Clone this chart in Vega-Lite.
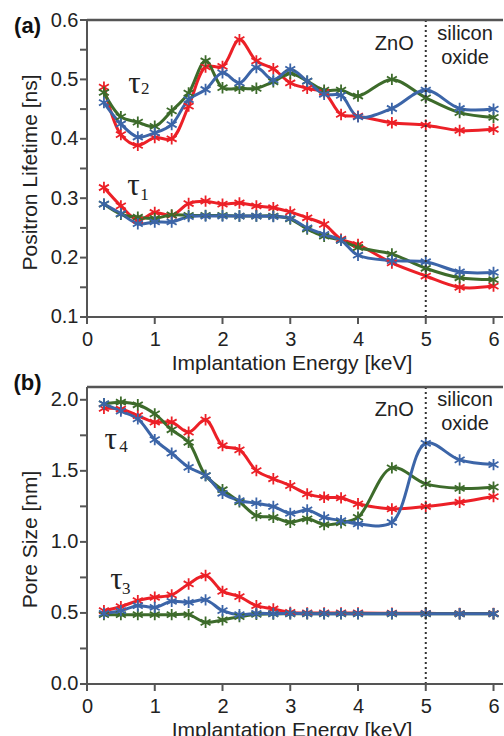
{
  "$schema": "https://vega.github.io/schema/vega-lite/v6.json",
  "padding": {"left": 13, "top": 10, "right": 0, "bottom": 0},
  "spacing": 63,
  "bounds": "flush",
  "config": {
    "view": {"stroke": null},
    "axis": {"domain": false, "ticks": false, "tickSize": 0, "labelFont": "Liberation Sans", "labelFontSize": 20, "labelColor": "#222", "titleFont": "Liberation Sans", "titleFontSize": 21, "titleFontWeight": "normal", "titleColor": "#222", "grid": false}
  },
  "datasets": {
    "top": [
      {"E":0.25,"v":0.487,"s":"r","t":"t2"},{"E":0.5,"v":0.407,"s":"r","t":"t2"},{"E":0.75,"v":0.389,"s":"r","t":"t2"},{"E":1,"v":0.402,"s":"r","t":"t2"},{"E":1.25,"v":0.4,"s":"r","t":"t2"},{"E":1.5,"v":0.455,"s":"r","t":"t2"},{"E":1.75,"v":0.521,"s":"r","t":"t2"},{"E":2,"v":0.522,"s":"r","t":"t2"},{"E":2.25,"v":0.567,"s":"r","t":"t2"},{"E":2.5,"v":0.531,"s":"r","t":"t2"},{"E":2.75,"v":0.518,"s":"r","t":"t2"},{"E":3,"v":0.494,"s":"r","t":"t2"},{"E":3.25,"v":0.485,"s":"r","t":"t2"},{"E":3.5,"v":0.478,"s":"r","t":"t2"},{"E":3.75,"v":0.441,"s":"r","t":"t2"},{"E":4,"v":0.438,"s":"r","t":"t2"},{"E":4.5,"v":0.427,"s":"r","t":"t2"},{"E":5,"v":0.423,"s":"r","t":"t2"},{"E":5.5,"v":0.414,"s":"r","t":"t2"},{"E":6,"v":0.416,"s":"r","t":"t2"},
      {"E":0.25,"v":0.478,"s":"g","t":"t2"},{"E":0.5,"v":0.437,"s":"g","t":"t2"},{"E":0.75,"v":0.428,"s":"g","t":"t2"},{"E":1,"v":0.421,"s":"g","t":"t2"},{"E":1.25,"v":0.447,"s":"g","t":"t2"},{"E":1.5,"v":0.477,"s":"g","t":"t2"},{"E":1.75,"v":0.531,"s":"g","t":"t2"},{"E":2,"v":0.486,"s":"g","t":"t2"},{"E":2.25,"v":0.485,"s":"g","t":"t2"},{"E":2.5,"v":0.485,"s":"g","t":"t2"},{"E":2.75,"v":0.496,"s":"g","t":"t2"},{"E":3,"v":0.51,"s":"g","t":"t2"},{"E":3.25,"v":0.497,"s":"g","t":"t2"},{"E":3.5,"v":0.482,"s":"g","t":"t2"},{"E":3.75,"v":0.482,"s":"g","t":"t2"},{"E":4,"v":0.472,"s":"g","t":"t2"},{"E":4.5,"v":0.5,"s":"g","t":"t2"},{"E":5,"v":0.469,"s":"g","t":"t2"},{"E":5.5,"v":0.444,"s":"g","t":"t2"},{"E":6,"v":0.436,"s":"g","t":"t2"},
      {"E":0.25,"v":0.461,"s":"b","t":"t2"},{"E":0.5,"v":0.425,"s":"b","t":"t2"},{"E":0.75,"v":0.403,"s":"b","t":"t2"},{"E":1,"v":0.41,"s":"b","t":"t2"},{"E":1.25,"v":0.424,"s":"b","t":"t2"},{"E":1.5,"v":0.466,"s":"b","t":"t2"},{"E":1.75,"v":0.483,"s":"b","t":"t2"},{"E":2,"v":0.511,"s":"b","t":"t2"},{"E":2.25,"v":0.494,"s":"b","t":"t2"},{"E":2.5,"v":0.52,"s":"b","t":"t2"},{"E":2.75,"v":0.499,"s":"b","t":"t2"},{"E":3,"v":0.517,"s":"b","t":"t2"},{"E":3.25,"v":0.497,"s":"b","t":"t2"},{"E":3.5,"v":0.475,"s":"b","t":"t2"},{"E":3.75,"v":0.473,"s":"b","t":"t2"},{"E":4,"v":0.437,"s":"b","t":"t2"},{"E":4.5,"v":0.451,"s":"b","t":"t2"},{"E":5,"v":0.482,"s":"b","t":"t2"},{"E":5.5,"v":0.451,"s":"b","t":"t2"},{"E":6,"v":0.45,"s":"b","t":"t2"},
      {"E":0.25,"v":0.318,"s":"r","t":"t1"},{"E":0.5,"v":0.287,"s":"r","t":"t1"},{"E":0.75,"v":0.263,"s":"r","t":"t1"},{"E":1,"v":0.276,"s":"r","t":"t1"},{"E":1.25,"v":0.271,"s":"r","t":"t1"},{"E":1.5,"v":0.291,"s":"r","t":"t1"},{"E":1.75,"v":0.295,"s":"r","t":"t1"},{"E":2,"v":0.29,"s":"r","t":"t1"},{"E":2.25,"v":0.292,"s":"r","t":"t1"},{"E":2.5,"v":0.287,"s":"r","t":"t1"},{"E":2.75,"v":0.284,"s":"r","t":"t1"},{"E":3,"v":0.277,"s":"r","t":"t1"},{"E":3.25,"v":0.267,"s":"r","t":"t1"},{"E":3.5,"v":0.256,"s":"r","t":"t1"},{"E":3.75,"v":0.231,"s":"r","t":"t1"},{"E":4,"v":0.222,"s":"r","t":"t1"},{"E":4.5,"v":0.191,"s":"r","t":"t1"},{"E":5,"v":0.169,"s":"r","t":"t1"},{"E":5.5,"v":0.15,"s":"r","t":"t1"},{"E":6,"v":0.152,"s":"r","t":"t1"},
      {"E":0.25,"v":0.29,"s":"g","t":"t1"},{"E":0.5,"v":0.273,"s":"g","t":"t1"},{"E":0.75,"v":0.268,"s":"g","t":"t1"},{"E":1,"v":0.266,"s":"g","t":"t1"},{"E":1.25,"v":0.272,"s":"g","t":"t1"},{"E":1.5,"v":0.271,"s":"g","t":"t1"},{"E":1.75,"v":0.271,"s":"g","t":"t1"},{"E":2,"v":0.271,"s":"g","t":"t1"},{"E":2.25,"v":0.27,"s":"g","t":"t1"},{"E":2.5,"v":0.27,"s":"g","t":"t1"},{"E":2.75,"v":0.27,"s":"g","t":"t1"},{"E":3,"v":0.265,"s":"g","t":"t1"},{"E":3.25,"v":0.248,"s":"g","t":"t1"},{"E":3.5,"v":0.236,"s":"g","t":"t1"},{"E":3.75,"v":0.229,"s":"g","t":"t1"},{"E":4,"v":0.217,"s":"g","t":"t1"},{"E":4.5,"v":0.206,"s":"g","t":"t1"},{"E":5,"v":0.182,"s":"g","t":"t1"},{"E":5.5,"v":0.166,"s":"g","t":"t1"},{"E":6,"v":0.163,"s":"g","t":"t1"},
      {"E":0.25,"v":0.29,"s":"b","t":"t1"},{"E":0.5,"v":0.274,"s":"b","t":"t1"},{"E":0.75,"v":0.257,"s":"b","t":"t1"},{"E":1,"v":0.26,"s":"b","t":"t1"},{"E":1.25,"v":0.26,"s":"b","t":"t1"},{"E":1.5,"v":0.269,"s":"b","t":"t1"},{"E":1.75,"v":0.27,"s":"b","t":"t1"},{"E":2,"v":0.27,"s":"b","t":"t1"},{"E":2.25,"v":0.27,"s":"b","t":"t1"},{"E":2.5,"v":0.27,"s":"b","t":"t1"},{"E":2.75,"v":0.269,"s":"b","t":"t1"},{"E":3,"v":0.266,"s":"b","t":"t1"},{"E":3.25,"v":0.25,"s":"b","t":"t1"},{"E":3.5,"v":0.239,"s":"b","t":"t1"},{"E":3.75,"v":0.229,"s":"b","t":"t1"},{"E":4,"v":0.204,"s":"b","t":"t1"},{"E":4.5,"v":0.195,"s":"b","t":"t1"},{"E":5,"v":0.193,"s":"b","t":"t1"},{"E":5.5,"v":0.176,"s":"b","t":"t1"},{"E":6,"v":0.175,"s":"b","t":"t1"}
    ],
    "bottom": [
      {"E":0.25,"v":1.94,"s":"r","t":"t4"},{"E":0.5,"v":1.935,"s":"r","t":"t4"},{"E":0.75,"v":1.889,"s":"r","t":"t4"},{"E":1,"v":1.842,"s":"r","t":"t4"},{"E":1.25,"v":1.842,"s":"r","t":"t4"},{"E":1.5,"v":1.772,"s":"r","t":"t4"},{"E":1.75,"v":1.859,"s":"r","t":"t4"},{"E":2,"v":1.678,"s":"r","t":"t4"},{"E":2.25,"v":1.648,"s":"r","t":"t4"},{"E":2.5,"v":1.502,"s":"r","t":"t4"},{"E":2.75,"v":1.444,"s":"r","t":"t4"},{"E":3,"v":1.396,"s":"r","t":"t4"},{"E":3.25,"v":1.338,"s":"r","t":"t4"},{"E":3.5,"v":1.314,"s":"r","t":"t4"},{"E":3.75,"v":1.31,"s":"r","t":"t4"},{"E":4,"v":1.268,"s":"r","t":"t4"},{"E":4.5,"v":1.232,"s":"r","t":"t4"},{"E":5,"v":1.249,"s":"r","t":"t4"},{"E":5.5,"v":1.279,"s":"r","t":"t4"},{"E":6,"v":1.319,"s":"r","t":"t4"},
      {"E":0.25,"v":1.972,"s":"g","t":"t4"},{"E":0.5,"v":1.983,"s":"g","t":"t4"},{"E":0.75,"v":1.965,"s":"g","t":"t4"},{"E":1,"v":1.901,"s":"g","t":"t4"},{"E":1.25,"v":1.789,"s":"g","t":"t4"},{"E":1.5,"v":1.701,"s":"g","t":"t4"},{"E":1.75,"v":1.467,"s":"g","t":"t4"},{"E":2,"v":1.367,"s":"g","t":"t4"},{"E":2.25,"v":1.282,"s":"g","t":"t4"},{"E":2.5,"v":1.185,"s":"g","t":"t4"},{"E":2.75,"v":1.173,"s":"g","t":"t4"},{"E":3,"v":1.138,"s":"g","t":"t4"},{"E":3.25,"v":1.162,"s":"g","t":"t4"},{"E":3.5,"v":1.122,"s":"g","t":"t4"},{"E":3.75,"v":1.134,"s":"g","t":"t4"},{"E":4,"v":1.173,"s":"g","t":"t4"},{"E":4.5,"v":1.521,"s":"g","t":"t4"},{"E":5,"v":1.408,"s":"g","t":"t4"},{"E":5.5,"v":1.377,"s":"g","t":"t4"},{"E":6,"v":1.385,"s":"g","t":"t4"},
      {"E":0.25,"v":1.972,"s":"b","t":"t4"},{"E":0.5,"v":1.92,"s":"b","t":"t4"},{"E":0.75,"v":1.866,"s":"b","t":"t4"},{"E":1,"v":1.72,"s":"b","t":"t4"},{"E":1.25,"v":1.624,"s":"b","t":"t4"},{"E":1.5,"v":1.525,"s":"b","t":"t4"},{"E":1.75,"v":1.467,"s":"b","t":"t4"},{"E":2,"v":1.342,"s":"b","t":"t4"},{"E":2.25,"v":1.291,"s":"b","t":"t4"},{"E":2.5,"v":1.272,"s":"b","t":"t4"},{"E":2.75,"v":1.249,"s":"b","t":"t4"},{"E":3,"v":1.201,"s":"b","t":"t4"},{"E":3.25,"v":1.225,"s":"b","t":"t4"},{"E":3.5,"v":1.173,"s":"b","t":"t4"},{"E":3.75,"v":1.15,"s":"b","t":"t4"},{"E":4,"v":1.127,"s":"b","t":"t4"},{"E":4.5,"v":1.138,"s":"b","t":"t4"},{"E":5,"v":1.694,"s":"b","t":"t4"},{"E":5.5,"v":1.577,"s":"b","t":"t4"},{"E":6,"v":1.544,"s":"b","t":"t4"},
      {"E":0.25,"v":0.516,"s":"r","t":"t3"},{"E":0.5,"v":0.544,"s":"r","t":"t3"},{"E":0.75,"v":0.587,"s":"r","t":"t3"},{"E":1,"v":0.61,"s":"r","t":"t3"},{"E":1.25,"v":0.627,"s":"r","t":"t3"},{"E":1.5,"v":0.704,"s":"r","t":"t3"},{"E":1.75,"v":0.763,"s":"r","t":"t3"},{"E":2,"v":0.652,"s":"r","t":"t3"},{"E":2.25,"v":0.615,"s":"r","t":"t3"},{"E":2.5,"v":0.551,"s":"r","t":"t3"},{"E":2.75,"v":0.528,"s":"r","t":"t3"},{"E":3,"v":0.504,"s":"r","t":"t3"},{"E":3.25,"v":0.5,"s":"r","t":"t3"},{"E":3.5,"v":0.5,"s":"r","t":"t3"},{"E":3.75,"v":0.5,"s":"r","t":"t3"},{"E":4,"v":0.5,"s":"r","t":"t3"},{"E":4.5,"v":0.498,"s":"r","t":"t3"},{"E":5,"v":0.497,"s":"r","t":"t3"},{"E":5.5,"v":0.496,"s":"r","t":"t3"},{"E":6,"v":0.496,"s":"r","t":"t3"},
      {"E":0.25,"v":0.488,"s":"g","t":"t3"},{"E":0.5,"v":0.488,"s":"g","t":"t3"},{"E":0.75,"v":0.488,"s":"g","t":"t3"},{"E":1,"v":0.488,"s":"g","t":"t3"},{"E":1.25,"v":0.488,"s":"g","t":"t3"},{"E":1.5,"v":0.488,"s":"g","t":"t3"},{"E":1.75,"v":0.434,"s":"g","t":"t3"},{"E":2,"v":0.451,"s":"g","t":"t3"},{"E":2.25,"v":0.474,"s":"g","t":"t3"},{"E":2.5,"v":0.49,"s":"g","t":"t3"},{"E":2.75,"v":0.493,"s":"g","t":"t3"},{"E":3,"v":0.494,"s":"g","t":"t3"},{"E":3.25,"v":0.494,"s":"g","t":"t3"},{"E":3.5,"v":0.494,"s":"g","t":"t3"},{"E":3.75,"v":0.494,"s":"g","t":"t3"},{"E":4,"v":0.494,"s":"g","t":"t3"},{"E":4.5,"v":0.494,"s":"g","t":"t3"},{"E":5,"v":0.494,"s":"g","t":"t3"},{"E":5.5,"v":0.494,"s":"g","t":"t3"},{"E":6,"v":0.494,"s":"g","t":"t3"},
      {"E":0.25,"v":0.497,"s":"b","t":"t3"},{"E":0.5,"v":0.516,"s":"b","t":"t3"},{"E":0.75,"v":0.551,"s":"b","t":"t3"},{"E":1,"v":0.539,"s":"b","t":"t3"},{"E":1.25,"v":0.582,"s":"b","t":"t3"},{"E":1.5,"v":0.575,"s":"b","t":"t3"},{"E":1.75,"v":0.592,"s":"b","t":"t3"},{"E":2,"v":0.516,"s":"b","t":"t3"},{"E":2.25,"v":0.488,"s":"b","t":"t3"},{"E":2.5,"v":0.497,"s":"b","t":"t3"},{"E":2.75,"v":0.496,"s":"b","t":"t3"},{"E":3,"v":0.496,"s":"b","t":"t3"},{"E":3.25,"v":0.495,"s":"b","t":"t3"},{"E":3.5,"v":0.495,"s":"b","t":"t3"},{"E":3.75,"v":0.495,"s":"b","t":"t3"},{"E":4,"v":0.495,"s":"b","t":"t3"},{"E":4.5,"v":0.495,"s":"b","t":"t3"},{"E":5,"v":0.495,"s":"b","t":"t3"},{"E":5.5,"v":0.494,"s":"b","t":"t3"},{"E":6,"v":0.494,"s":"b","t":"t3"}
    ],
    "leftTop": [{"E":0,"v":0.1},{"E":0,"v":0.6}],
    "baseTop": [{"E":0,"v":0.1},{"E":6.14,"v":0.1}],
    "frameTop": [{"E":0,"v":0.6},{"E":6.14,"v":0.6}],
    "xTicksTop": [{"E":0,"v":0.1},{"E":1,"v":0.1},{"E":2,"v":0.1},{"E":3,"v":0.1},{"E":4,"v":0.1},{"E":5,"v":0.1},{"E":6,"v":0.1}],
    "yTicksTop": [{"E":0,"v":0.1},{"E":0,"v":0.15},{"E":0,"v":0.2},{"E":0,"v":0.25},{"E":0,"v":0.3},{"E":0,"v":0.35},{"E":0,"v":0.4},{"E":0,"v":0.45},{"E":0,"v":0.5},{"E":0,"v":0.55},{"E":0,"v":0.6}],
    "leftBot": [{"E":0,"v":0},{"E":0,"v":2.09}],
    "baseBot": [{"E":0,"v":0},{"E":6.14,"v":0}],
    "frameBot": [{"E":0,"v":2.09},{"E":6.14,"v":2.09}],
    "xTicksBot": [{"E":0,"v":0},{"E":1,"v":0},{"E":2,"v":0},{"E":3,"v":0},{"E":4,"v":0},{"E":5,"v":0},{"E":6,"v":0}],
    "yTicksBot": [{"E":0,"v":0},{"E":0,"v":0.25},{"E":0,"v":0.5},{"E":0,"v":0.75},{"E":0,"v":1},{"E":0,"v":1.25},{"E":0,"v":1.5},{"E":0,"v":1.75},{"E":0,"v":2}],
    "dividerTop": [{"E":5,"v":0.1},{"E":5,"v":0.6}],
    "dividerBot": [{"E":5,"v":0},{"E":5,"v":2.09}],
    "topText": [
      {"E":4.535,"v":0.56,"label":"ZnO"},{"E":5.58,"v":0.576,"label":"silicon"},{"E":5.58,"v":0.536,"label":"oxide"}
    ],
    "topTau": [
      {"E":0.70,"v":0.493,"label":"τ"},{"E":0.686,"v":0.32,"label":"τ"}
    ],
    "topSub": [
      {"E":0.86,"v":0.484,"label":"2"},{"E":0.85,"v":0.305,"label":"1"}
    ],
    "topPanel": [{"E":-0.878,"v":0.59,"label":"(a)"}],
    "botText": [
      {"E":4.535,"v":1.925,"label":"ZnO"},{"E":5.58,"v":2.0,"label":"silicon"},{"E":5.58,"v":1.833,"label":"oxide"}
    ],
    "botTau": [
      {"E":0.35,"v":1.72,"label":"τ"},{"E":0.435,"v":0.735,"label":"τ"}
    ],
    "botSub": [
      {"E":0.54,"v":1.67,"label":"4"},{"E":0.58,"v":0.67,"label":"3"}
    ],
    "botPanel": [{"E":-0.878,"v":2.115,"label":"(b)"}]
  },
  "vconcat": [
    {
      "width": 423, "height": 304,
      "layer": [
        {
          "data": {"name": "top"},
          "mark": {"type": "line", "interpolate": "catmull-rom", "strokeWidth": 3},
          "encoding": {
            "x": {"field": "E", "type": "quantitative", "scale": {"domain": [-0.1033, 6.14], "nice": false, "zero": false}, "axis": {"title": "Implantation Energy [keV]", "values": [0,1,2,3,4,5,6], "format": "d", "labelPadding": 5, "titlePadding": 3}},
            "y": {"field": "v", "type": "quantitative", "scale": {"domain": [0.0882, 0.6], "nice": false, "zero": false}, "axis": {"title": "Positron Lifetime [ns]", "values": [0.1,0.2,0.3,0.4,0.5,0.6], "format": ".1f", "labelPadding": 2, "titlePadding": 10}},
            "color": {"field": "s", "type": "nominal", "scale": {"domain": ["r","g","b"], "range": ["#ec2027","#3d6b2b","#3c65a8"]}, "legend": null},
            "detail": {"field": "t"}
          }
        },
        {
          "data": {"name": "top"},
          "mark": {"type": "point", "shape": "M0,-1L0,1M-0.87,-0.5L0.87,0.5M-0.87,0.5L0.87,-0.5", "filled": false, "strokeWidth": 1.8, "size": 130, "opacity": 1},
          "encoding": {
            "x": {"field": "E", "type": "quantitative"},
            "y": {"field": "v", "type": "quantitative"},
            "color": {"field": "s", "type": "nominal", "legend": null}
          }
        },
        {
          "data": {"name": "dividerTop"},
          "mark": {"type": "line", "strokeDash": [2, 3], "strokeWidth": 2, "color": "#333"},
          "encoding": {"x": {"field": "E", "type": "quantitative"}, "y": {"field": "v", "type": "quantitative"}}
        },
        {
          "data": {"name": "leftTop"},
          "mark": {"type": "line", "strokeWidth": 2, "color": "#555"},
          "encoding": {"x": {"field": "E", "type": "quantitative"}, "y": {"field": "v", "type": "quantitative"}}
        },
        {
          "data": {"name": "baseTop"},
          "mark": {"type": "line", "strokeWidth": 2, "color": "#555"},
          "encoding": {"x": {"field": "E", "type": "quantitative"}, "y": {"field": "v", "type": "quantitative"}}
        },
        {
          "data": {"name": "frameTop"},
          "mark": {"type": "line", "strokeWidth": 2.5, "color": "#555"},
          "encoding": {"x": {"field": "E", "type": "quantitative"}, "y": {"field": "v", "type": "quantitative"}}
        },
        {
          "data": {"name": "xTicksTop"},
          "mark": {"type": "point", "shape": "M0,0L0,1", "filled": false, "size": 196, "strokeWidth": 2, "color": "#555", "opacity": 1},
          "encoding": {"x": {"field": "E", "type": "quantitative"}, "y": {"field": "v", "type": "quantitative"}}
        },
        {
          "data": {"name": "yTicksTop"},
          "mark": {"type": "point", "shape": "M0,0L-1,0", "filled": false, "size": 196, "strokeWidth": 2, "color": "#555", "opacity": 1},
          "encoding": {"x": {"field": "E", "type": "quantitative"}, "y": {"field": "v", "type": "quantitative"}}
        },
        {
          "data": {"name": "topText"},
          "mark": {"type": "text", "font": "Liberation Sans", "fontSize": 20, "color": "#222", "baseline": "middle", "align": "center"},
          "encoding": {"x": {"field": "E", "type": "quantitative"}, "y": {"field": "v", "type": "quantitative"}, "text": {"field": "label"}}
        },
        {
          "data": {"name": "topPanel"},
          "mark": {"type": "text", "font": "Liberation Sans", "fontSize": 22, "fontWeight": "bold", "color": "#111", "baseline": "middle", "align": "center"},
          "encoding": {"x": {"field": "E", "type": "quantitative"}, "y": {"field": "v", "type": "quantitative"}, "text": {"field": "label"}}
        },
        {
          "data": {"name": "topTau"},
          "mark": {"type": "text", "font": "Liberation Serif", "fontSize": 31, "color": "#222", "baseline": "middle", "align": "center"},
          "encoding": {"x": {"field": "E", "type": "quantitative"}, "y": {"field": "v", "type": "quantitative"}, "text": {"field": "label"}}
        },
        {
          "data": {"name": "topSub"},
          "mark": {"type": "text", "font": "Liberation Serif", "fontSize": 17, "color": "#222", "baseline": "middle", "align": "center"},
          "encoding": {"x": {"field": "E", "type": "quantitative"}, "y": {"field": "v", "type": "quantitative"}, "text": {"field": "label"}}
        }
      ]
    },
    {
      "width": 423, "height": 304,
      "layer": [
        {
          "data": {"name": "bottom"},
          "mark": {"type": "line", "interpolate": "catmull-rom", "strokeWidth": 3},
          "encoding": {
            "x": {"field": "E", "type": "quantitative", "scale": {"domain": [-0.1033, 6.14], "nice": false, "zero": false}, "axis": {"title": "Implantation Energy [keV]", "values": [0,1,2,3,4,5,6], "format": "d", "labelPadding": 5, "titlePadding": 3}},
            "y": {"field": "v", "type": "quantitative", "scale": {"domain": [-0.0493, 2.09], "nice": false, "zero": false}, "axis": {"title": "Pore Size [nm]", "values": [0,0.5,1,1.5,2], "format": ".1f", "labelPadding": 2, "titlePadding": 10}},
            "color": {"field": "s", "type": "nominal", "scale": {"domain": ["r","g","b"], "range": ["#ec2027","#3d6b2b","#3c65a8"]}, "legend": null},
            "detail": {"field": "t"}
          }
        },
        {
          "data": {"name": "bottom"},
          "mark": {"type": "point", "shape": "M0,-1L0,1M-0.87,-0.5L0.87,0.5M-0.87,0.5L0.87,-0.5", "filled": false, "strokeWidth": 1.8, "size": 130, "opacity": 1},
          "encoding": {
            "x": {"field": "E", "type": "quantitative"},
            "y": {"field": "v", "type": "quantitative"},
            "color": {"field": "s", "type": "nominal", "legend": null}
          }
        },
        {
          "data": {"name": "dividerBot"},
          "mark": {"type": "line", "strokeDash": [2, 3], "strokeWidth": 2, "color": "#333"},
          "encoding": {"x": {"field": "E", "type": "quantitative"}, "y": {"field": "v", "type": "quantitative"}}
        },
        {
          "data": {"name": "leftBot"},
          "mark": {"type": "line", "strokeWidth": 2, "color": "#555"},
          "encoding": {"x": {"field": "E", "type": "quantitative"}, "y": {"field": "v", "type": "quantitative"}}
        },
        {
          "data": {"name": "baseBot"},
          "mark": {"type": "line", "strokeWidth": 2, "color": "#555"},
          "encoding": {"x": {"field": "E", "type": "quantitative"}, "y": {"field": "v", "type": "quantitative"}}
        },
        {
          "data": {"name": "frameBot"},
          "mark": {"type": "line", "strokeWidth": 2.5, "color": "#555"},
          "encoding": {"x": {"field": "E", "type": "quantitative"}, "y": {"field": "v", "type": "quantitative"}}
        },
        {
          "data": {"name": "xTicksBot"},
          "mark": {"type": "point", "shape": "M0,0L0,1", "filled": false, "size": 196, "strokeWidth": 2, "color": "#555", "opacity": 1},
          "encoding": {"x": {"field": "E", "type": "quantitative"}, "y": {"field": "v", "type": "quantitative"}}
        },
        {
          "data": {"name": "yTicksBot"},
          "mark": {"type": "point", "shape": "M0,0L-1,0", "filled": false, "size": 196, "strokeWidth": 2, "color": "#555", "opacity": 1},
          "encoding": {"x": {"field": "E", "type": "quantitative"}, "y": {"field": "v", "type": "quantitative"}}
        },
        {
          "data": {"name": "botText"},
          "mark": {"type": "text", "font": "Liberation Sans", "fontSize": 20, "color": "#222", "baseline": "middle", "align": "center"},
          "encoding": {"x": {"field": "E", "type": "quantitative"}, "y": {"field": "v", "type": "quantitative"}, "text": {"field": "label"}}
        },
        {
          "data": {"name": "botPanel"},
          "mark": {"type": "text", "font": "Liberation Sans", "fontSize": 22, "fontWeight": "bold", "color": "#111", "baseline": "middle", "align": "center"},
          "encoding": {"x": {"field": "E", "type": "quantitative"}, "y": {"field": "v", "type": "quantitative"}, "text": {"field": "label"}}
        },
        {
          "data": {"name": "botTau"},
          "mark": {"type": "text", "font": "Liberation Serif", "fontSize": 31, "color": "#222", "baseline": "middle", "align": "center"},
          "encoding": {"x": {"field": "E", "type": "quantitative"}, "y": {"field": "v", "type": "quantitative"}, "text": {"field": "label"}}
        },
        {
          "data": {"name": "botSub"},
          "mark": {"type": "text", "font": "Liberation Serif", "fontSize": 17, "color": "#222", "baseline": "middle", "align": "center"},
          "encoding": {"x": {"field": "E", "type": "quantitative"}, "y": {"field": "v", "type": "quantitative"}, "text": {"field": "label"}}
        }
      ]
    }
  ]
}
